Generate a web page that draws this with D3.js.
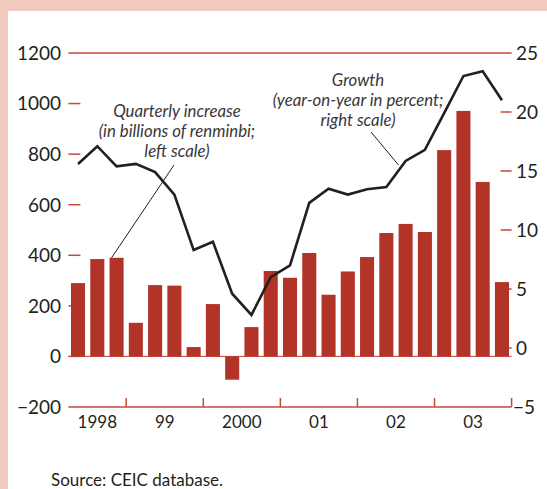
<!DOCTYPE html>
<html>
<head>
<meta charset="utf-8">
<script src="https://cdn.jsdelivr.net/npm/d3@7"></script>
<style>
  html, body { margin: 0; padding: 0; background: #f0cbbe; }
  svg { display: block; }
  text { font-family: Lato, "Open Sans", sans-serif; fill: #231f20; }
</style>
</head>
<body>
<div id="chart"></div>
<script>
window.onload = function() {

  var width = 547,
    height = 489;

  var barColor = '#b23428',
    ruleColor = '#c4493d',
    lineColor = '#231f20',
    panelColor = '#ffffff';

  // quarters from 1998Q2 to 2003Q4
  var quarters = ['1998Q2', '1998Q3', '1998Q4',
    '1999Q1', '1999Q2', '1999Q3', '1999Q4',
    '2000Q1', '2000Q2', '2000Q3', '2000Q4',
    '2001Q1', '2001Q2', '2001Q3', '2001Q4',
    '2002Q1', '2002Q2', '2002Q3', '2002Q4',
    '2003Q1', '2003Q2', '2003Q3', '2003Q4'];

  // quarterly increase, billions of renminbi (left scale)
  var increase = [290, 385, 390,
    133, 282, 280, 37,
    207, -92, 116, 338,
    311, 409, 244, 336,
    393, 488, 524, 492,
    816, 971, 690, 294];

  // growth, year-on-year in percent (right scale)
  var growth = [15.6, 17.1, 15.4,
    15.6, 14.9, 13.0, 8.3,
    9.0, 4.6, 2.8, 6.0,
    7.0, 12.3, 13.5, 13.0,
    13.45, 13.65, 15.85, 16.8,
    19.9, 23.05, 23.45, 21.0];

  var yearLabels = ['1998', '99', '2000', '01', '02', '03'],
    yearFirst = ['1998Q2', '1999Q1', '2000Q1', '2001Q1', '2002Q1', '2003Q1'],
    yearLast = ['1998Q4', '1999Q4', '2000Q4', '2001Q4', '2002Q4', '2003Q4'];

  var leftTicks = [-200, 0, 200, 400, 600, 800, 1000, 1200],
    rightTicks = [-5, 0, 5, 10, 15, 20, 25];

  var left = 68.4, right = 511.6, top = 53, bottom = 407;

  var svg = d3.select('#chart').append('svg').attr('width', width).attr('height', height);

  // white panel inside the pink frame
  svg.append('rect')
    .attr('x', 8).attr('y', 11)
    .attr('width', width - 8).attr('height', height - 11)
    .attr('fill', panelColor);

  var x = d3.scaleBand().domain(quarters).range([left, right])
    .paddingInner(0.27).paddingOuter(0.135);

  var yL = d3.scaleLinear().domain([-200, 1200]).range([bottom, top]);
  var yR = d3.scaleLinear().domain([-5, 25]).range([bottom, top]);

  /* left scale: short ticks, full rules at top and bottom */
  var lt = svg.append('g');
  lt.selectAll('line').data(leftTicks).enter().append('line')
    .attr('x1', left)
    .attr('x2', function(d) { return (d === 1200 || d === -200) ? right : left + 12; })
    .attr('y1', function(d) { return yL(d); })
    .attr('y2', function(d) { return yL(d); })
    .attr('stroke', ruleColor)
    .attr('stroke-width', 1.5);
  lt.selectAll('text').data(leftTicks).enter().append('text')
    .attr('x', 61)
    .attr('y', function(d) { return yL(d); })
    .attr('dy', '0.36em')
    .attr('text-anchor', 'end')
    .attr('font-size', 19)
    .text(function(d) { return d < 0 ? '\u2212' + Math.abs(d) : d; });

  /* right scale */
  var rt = svg.append('g');
  rt.selectAll('line').data(rightTicks.filter(function(d) { return d > -5 && d < 25; })).enter().append('line')
    .attr('x1', right - 11)
    .attr('x2', right)
    .attr('y1', function(d) { return yR(d); })
    .attr('y2', function(d) { return yR(d); })
    .attr('stroke', ruleColor)
    .attr('stroke-width', 1.5);
  rt.selectAll('text').data(rightTicks).enter().append('text')
    .attr('x', function(d) { return d < 0 ? 513 : 516; })
    .attr('y', function(d) { return yR(d); })
    .attr('dy', '0.36em')
    .attr('font-size', 19)
    .text(function(d) { return d < 0 ? '\u2212' + Math.abs(d) : d; });

  /* zero line of left scale */
  svg.append('line')
    .attr('x1', left).attr('x2', right)
    .attr('y1', yL(0)).attr('y2', yL(0))
    .attr('stroke', ruleColor)
    .attr('stroke-width', 1);

  /* bars */
  svg.append('g').selectAll('rect').data(increase).enter().append('rect')
    .attr('x', function(d, i) { return x(quarters[i]); })
    .attr('width', x.bandwidth())
    .attr('y', function(d) { return yL(Math.max(0, d)); })
    .attr('height', function(d) { return Math.abs(yL(d) - yL(0)); })
    .attr('fill', barColor);

  /* year ticks on bottom rule */
  var half = x.step() * x.paddingInner() / 2;
  var boundaries = yearFirst.slice(1).map(function(q) { return x(q) - half; }).concat([right]);
  svg.append('g').selectAll('line').data(boundaries).enter().append('line')
    .attr('x1', function(d) { return d; })
    .attr('x2', function(d) { return d; })
    .attr('y1', bottom - 9)
    .attr('y2', bottom)
    .attr('stroke', ruleColor)
    .attr('stroke-width', 1.5);

  svg.append('g').selectAll('text').data(yearLabels).enter().append('text')
    .attr('x', function(d, i) {
      return (x(yearFirst[i]) + x(yearLast[i]) + x.bandwidth()) / 2;
    })
    .attr('y', 428)
    .attr('text-anchor', 'middle')
    .attr('font-size', 17)
    .text(function(d) { return d; });

  /* growth line */
  var line = d3.line()
    .x(function(d, i) { return x(quarters[i]) + x.bandwidth() / 2; })
    .y(function(d) { return yR(d); });

  svg.append('path')
    .datum(growth)
    .attr('d', line)
    .attr('fill', 'none')
    .attr('stroke', lineColor)
    .attr('stroke-width', 2.6)
    .attr('stroke-linejoin', 'miter');

  /* annotations */
  function label(lines, cx, y0) {
    var t = svg.append('text')
      .attr('text-anchor', 'middle')
      .attr('font-style', 'italic')
      .attr('font-size', 16.8)
      .style('fill', '#3a3637');
    lines.forEach(function(s, i) {
      t.append('tspan').attr('x', cx).attr('y', y0 + i * 20).text(s);
    });
  }

  label(['Quarterly increase', '(in billions of renminbi;', 'left scale)'], 177, 117);
  label(['Growth', '(year-on-year in percent;', 'right scale)'], 358, 86);

  // leader lines
  var q3 = quarters.indexOf('1998Q4');
  svg.append('line')
    .attr('x1', 174).attr('y1', 165)
    .attr('x2', x(quarters[q3]) + 2).attr('y2', yL(increase[q3]))
    .attr('stroke', lineColor).attr('stroke-width', 1);

  svg.append('line')
    .attr('x1', 371).attr('y1', 132)
    .attr('x2', 398.5).attr('y2', 165)
    .attr('stroke', lineColor).attr('stroke-width', 1);

  svg.append('text')
    .attr('x', 51).attr('y', 486)
    .attr('font-size', 17)
    .text('Source: CEIC database.');

}
</script>
</body>
</html>
